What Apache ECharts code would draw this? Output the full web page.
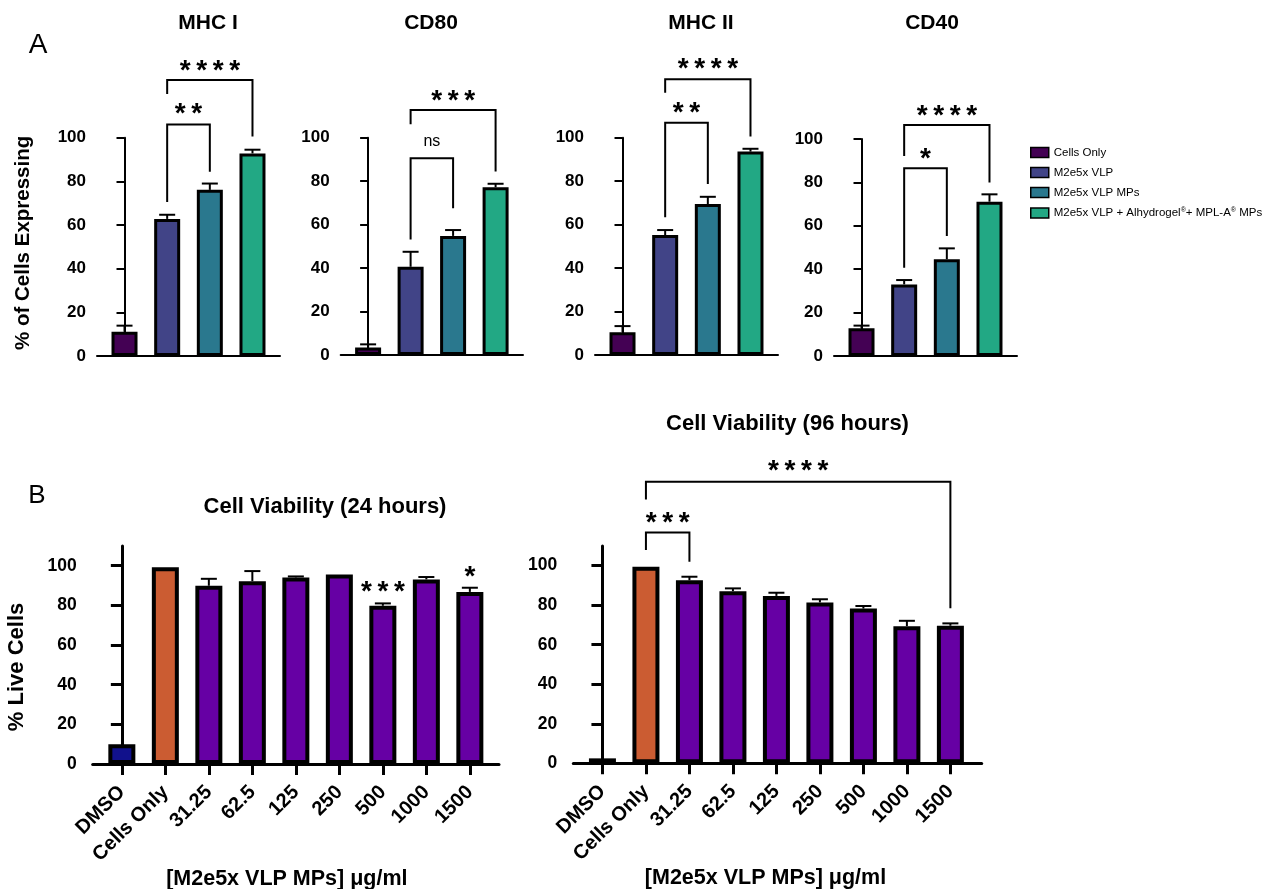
<!DOCTYPE html>
<html><head><meta charset="utf-8">
<script src="https://cdn.jsdelivr.net/npm/echarts@6/dist/echarts.min.js"></script>
<style>html,body{margin:0;padding:0;background:#fff}#c{width:1273px;height:889px}</style>
</head><body><div id="c"></div>
<script>
// ---------- DATA ----------
const groups = ['Cells Only', 'M2e5x VLP', 'M2e5x VLP MPs', 'M2e5x VLP + Alhydrogel®+ MPL-A® MPs'];
const groupColors = ['#440154', '#414487', '#2A788E', '#22A884'];
const markerTitles = ['MHC I', 'CD80', 'MHC II', 'CD40'];
const mhc1Mean = [11.1, 62.8, 76.1, 92.8];
const mhc1Err  = [13.9, 64.7, 79.0, 94.5];
const cd80Mean = [3.4, 40.6, 54.8, 77.2];
const cd80Err  = [4.9, 47.5, 57.5, 78.8];
const mhc2Mean = [10.5, 55.2, 69.5, 93.6];
const mhc2Err  = [13.3, 57.5, 72.8, 94.9];
const cd40Mean = [12.8, 33.0, 44.6, 71.1];
const cd40Err  = [14.0, 35.0, 49.6, 74.5];
const aTicks = [0, 20, 40, 60, 80, 100];
// significance brackets: [fromIdx, toIdx, bracketTop, leftEnd, rightEnd, labelY, label]
const mhc1Sig = [[1, 2, 106.1, 70.5, 84.4, 113.6, '**'], [1, 3, 126.4, 120.0, 100.5, 133.3, '****']];
const cd80Sig = [[1, 2, 90.5, 53.2, 67.5, 98.2, 'ns'], [1, 3, 112.7, 106.2, 84.4, 119.6, '***']];
const mhc2Sig = [[1, 2, 106.9, 63.4, 78.7, 114.0, '**'], [1, 3, 126.9, 120.7, 100.5, 134.2, '****']];
const cd40Sig = [[1, 2, 86.5, 40.7, 55.3, 93.4, '*'], [1, 3, 106.5, 92.2, 79.9, 113.4, '****']];

const doseCats = ['DMSO', 'Cells Only', '31.25', '62.5', '125', '250', '500', '1000', '1500'];
const doseColors = ['#11118C', '#CB5C32', '#6600A4', '#6600A4', '#6600A4', '#6600A4', '#6600A4', '#6600A4', '#6600A4'];
const v24Mean = [9.9, 99.2, 89.9, 92.2, 94.1, 95.6, 79.8, 93.1, 86.8];
const v24Err  = [9.9, 99.2, 93.4, 97.3, 94.6, 95.6, 81.0, 94.3, 88.9];
const v96Mean = [2.5, 99.4, 92.6, 87.1, 84.7, 81.4, 78.3, 69.4, 69.6];
const v96Err  = [2.5, 99.4, 94.4, 88.5, 86.3, 83.0, 79.6, 72.1, 70.8];
const bTicks = [0, 20, 40, 60, 80, 100];
const doseTickPos = [0, 1, 2, 3, 4, 5, 6, 7, 8];
// star labels: [idx, labelY, label]
const v24Stars = [[6, 89.8, '***'], [8, 97.0, '*']];
const v96Sig = [[1, 2, 116.8, 107.9, 102.0, 124.7, '***'], [1, 8, 142.4, 133.5, 78.4, 150.9, '****']];

// ---------- LAYOUT ----------
const FONT = "'Liberation Sans', Arial, Helvetica, sans-serif";
const aGrids = [
  {left: 97, top: 137.7, width: 183, height: 218.3},
  {left: 340.7, top: 137.7, width: 182.3, height: 217.3},
  {left: 595, top: 137.7, width: 183, height: 217.3},
  {left: 834, top: 139, width: 183, height: 217}
];
const bGrids = [
  {left: 92.7, top: 545.9, width: 406.3, height: 218.1},
  {left: 573.3, top: 545.9, width: 408.4, height: 217.4}
];
const aPanels = [
  {mean: mhc1Mean, err: mhc1Err, sig: mhc1Sig},
  {mean: cd80Mean, err: cd80Err, sig: cd80Sig},
  {mean: mhc2Mean, err: mhc2Err, sig: mhc2Sig},
  {mean: cd40Mean, err: cd40Err, sig: cd40Sig}
];
const aTitlePos = [[208, 23], [431, 23.5], [701, 23.5], [932, 23.5]];

function starText(s) { return s === 'ns' ? s : s.split('').join('\u2009'); }
function textEl(x, y, label) {
  const isNs = label === 'ns';
  return {type: 'text', x: x, y: y + (isNs ? 0 : 6),
    style: {text: starText(label), fill: '#000', font: (isNs ? '' : 'bold ') + (isNs ? 16 : 28) + 'px ' + FONT,
      textAlign: 'center', textVerticalAlign: 'middle', align: 'center', verticalAlign: 'middle'}};
}
function errSeries(ai, mean, err, capW, lw) {
  return {type: 'custom', xAxisIndex: ai, yAxisIndex: ai, z: 4, silent: true, clip: false,
    data: mean.map((m, i) => [i, m, err[i]]),
    renderItem: function (params, api) {
      const x = api.value(0), m = api.value(1), e = api.value(2);
      if (e - m < 0.3) return null;
      const p0 = api.coord([x, m]), p1 = api.coord([x, e]);
      return {type: 'group', children: [
        {type: 'line', shape: {x1: p0[0], y1: p0[1], x2: p1[0], y2: p1[1]}, style: {stroke: '#000', lineWidth: lw}},
        {type: 'line', shape: {x1: p1[0] - capW / 2, y1: p1[1], x2: p1[0] + capW / 2, y2: p1[1]}, style: {stroke: '#000', lineWidth: lw}}
      ]};
    }};
}
function sigSeries(ai, sig) {
  return {type: 'custom', xAxisIndex: ai, yAxisIndex: ai, z: 5, silent: true, clip: false,
    data: sig.map(s => [s[0], s[2]]),
    renderItem: function (params, api) {
      const s = sig[params.dataIndex];
      const a = api.coord([s[0], s[3]]), b = api.coord([s[0], s[2]]);
      const c = api.coord([s[1], s[2]]), d = api.coord([s[1], s[4]]);
      const t = api.coord([(s[0] + s[1]) / 2, s[5]]);
      return {type: 'group', children: [
        {type: 'polyline', shape: {points: [a, b, c, d]}, style: {stroke: '#000', lineWidth: 2, fill: null}},
        textEl(t[0], t[1], s[6])
      ]};
    }};
}
function starSeries(ai, stars) {
  return {type: 'custom', xAxisIndex: ai, yAxisIndex: ai, z: 5, silent: true, clip: false,
    data: stars.map(s => [s[0], s[1]]),
    renderItem: function (params, api) {
      const s = stars[params.dataIndex];
      const t = api.coord([s[0], s[1]]);
      return textEl(t[0], t[1], s[2]);
    }};
}

const grid = [], xAxis = [], yAxis = [], series = [];
aGrids.forEach((g, i) => {
  grid.push(Object.assign({outerBoundsMode: 'none', containLabel: false}, g));
  xAxis.push({gridIndex: i, type: 'value', min: -0.645, max: 3.645,
    axisLine: {show: true, onZero: false, lineStyle: {color: '#000', width: 2}},
    axisTick: {show: false}, axisLabel: {show: false}, splitLine: {show: false}});
  yAxis.push({gridIndex: i, type: 'value', min: 0, max: 100, interval: 20,
    axisLine: {show: true, lineStyle: {color: '#000', width: 2}},
    axisTick: {show: true, length: 8, lineStyle: {color: '#000', width: 2}},
    axisLabel: {color: '#000', fontSize: 17, fontWeight: 'bold', fontFamily: FONT, margin: 11},
    splitLine: {show: false},
    name: i === 0 ? '% of Cells Expressing' : '', nameLocation: 'middle', nameGap: 63,
    nameTextStyle: {color: '#000', fontSize: 20.5, fontWeight: 'bold', fontFamily: FONT, padding: [0, 0, 0, 8]}});
});
bGrids.forEach((g, k) => {
  const i = 4 + k;
  grid.push(Object.assign({outerBoundsMode: 'none', containLabel: false}, g));
  xAxis.push({gridIndex: i, type: 'value', min: -0.67, max: k === 0 ? 8.67 : 8.72,
    axisLine: {show: true, onZero: false, lineStyle: {color: '#000', width: 3}},
    axisTick: {show: true, customValues: doseTickPos, length: 11, lineStyle: {color: '#000', width: 3}},
    axisLabel: {show: true, customValues: doseTickPos, formatter: v => doseCats[Math.round(v)], rotate: 45,
      color: '#000', fontSize: 20, fontWeight: 'bold', fontFamily: FONT, margin: 25},
    splitLine: {show: false},
    name: '[M2e5x VLP MPs] μg/ml', nameLocation: 'middle', nameGap: 102,
    nameTextStyle: {color: '#000', fontSize: 21.5, fontWeight: 'bold', fontFamily: FONT, padding: [0, k === 0 ? 18 : 24, 0, 0]}});
  yAxis.push({gridIndex: i, type: 'value', min: 0, max: 110,
    axisLine: {show: true, lineStyle: {color: '#000', width: 3}},
    axisTick: {show: true, customValues: bTicks, length: 11, lineStyle: {color: '#000', width: 3}},
    axisLabel: {show: true, customValues: bTicks, color: '#000', fontSize: 17.5, fontWeight: 'bold', fontFamily: FONT, margin: 16},
    splitLine: {show: false},
    name: k === 0 ? '% Live Cells' : '', nameLocation: 'middle', nameGap: 65,
    nameTextStyle: {color: '#000', fontSize: 22, fontWeight: 'bold', fontFamily: FONT, padding: [0, 24, 0, 0]}});
});

aPanels.forEach((p, pi) => {
  groups.forEach((g, gi) => {
    series.push({type: 'bar', name: g, xAxisIndex: pi, yAxisIndex: pi, data: [[gi, p.mean[gi]]],
      barWidth: 26, barGap: '-100%', z: 2, emphasis: {disabled: true},
      itemStyle: {color: groupColors[gi], borderColor: '#000', borderWidth: 3}});
  });
  series.push(errSeries(pi, p.mean, p.err, 16, 2));
  series.push(sigSeries(pi, p.sig));
});
[{mean: v24Mean, err: v24Err}, {mean: v96Mean, err: v96Err}].forEach((p, k) => {
  const ai = 4 + k;
  series.push({type: 'bar', name: k === 0 ? 'Viability 24 h' : 'Viability 96 h', xAxisIndex: ai, yAxisIndex: ai,
    data: p.mean.map((v, i) => ({value: [i, v], itemStyle: {color: doseColors[i]}})),
    barWidth: 27, z: 2, emphasis: {disabled: true},
    itemStyle: {borderColor: '#000', borderWidth: 4}});
  series.push(errSeries(ai, p.mean, p.err, 16, 2));
});
series.push(starSeries(4, v24Stars));
series.push(sigSeries(5, v96Sig));

const titleFont = 'bold 21px ' + FONT;
const titleFontB = 'bold 22px ' + FONT;
const graphic = [];
markerTitles.forEach((t, i) => {
  graphic.push({type: 'text', x: aTitlePos[i][0], y: aTitlePos[i][1],
    style: {text: t, font: titleFont, fill: '#000', textAlign: 'center', textVerticalAlign: 'middle', align: 'center', verticalAlign: 'middle'}});
});
graphic.push({type: 'text', x: 325, y: 507, style: {text: 'Cell Viability (24 hours)', font: titleFontB, fill: '#000', textAlign: 'center', textVerticalAlign: 'middle', align: 'center', verticalAlign: 'middle'}});
graphic.push({type: 'text', x: 787.5, y: 423.5, style: {text: 'Cell Viability (96 hours)', font: titleFontB, fill: '#000', textAlign: 'center', textVerticalAlign: 'middle', align: 'center', verticalAlign: 'middle'}});
graphic.push({type: 'text', x: 38, y: 45, style: {text: 'A', font: '28px ' + FONT, fill: '#000', textAlign: 'center', textVerticalAlign: 'middle', align: 'center', verticalAlign: 'middle'}});
graphic.push({type: 'text', x: 37, y: 496, style: {text: 'B', font: '26px ' + FONT, fill: '#000', textAlign: 'center', textVerticalAlign: 'middle', align: 'center', verticalAlign: 'middle'}});

const chart = echarts.init(document.getElementById('c'), null, {renderer: 'canvas'});
chart.setOption({
  animation: false,
  backgroundColor: '#fff',
  textStyle: {fontFamily: FONT},
  grid: grid, xAxis: xAxis, yAxis: yAxis, series: series, graphic: graphic,
  legend: {
    data: groups, orient: 'vertical', left: 1025, top: 141.5, itemWidth: 18, itemHeight: 10, itemGap: 8,
    icon: 'rect', selectedMode: false,
    itemStyle: {borderColor: '#000', borderWidth: 1.5},
    textStyle: {color: '#000', fontSize: 11.5, fontFamily: FONT, rich: {s: {fontSize: 7, padding: [0, 0, 6, 0]}}},
    formatter: n => n.replace(/®/g, '{s|®}')
  }
});
</script>
</body></html>
